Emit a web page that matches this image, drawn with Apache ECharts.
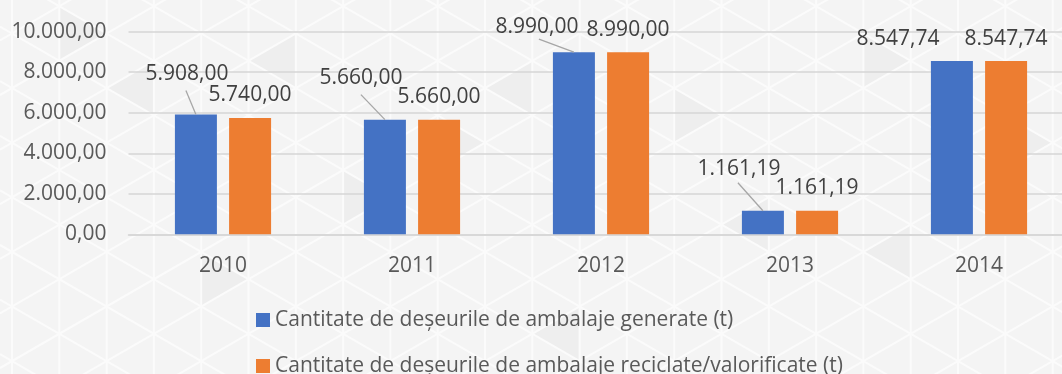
<!DOCTYPE html>
<html>
<head>
<meta charset="utf-8">
<script src="https://cdn.jsdelivr.net/npm/echarts@6/dist/echarts.min.js"></script>
<style>
  html, body { margin: 0; padding: 0; background: #f4f4f4; overflow: hidden; }
  /* the plot runs slightly past the right edge of the window, so the canvas is a bit wider */
  #chart { width: 1090px; height: 374px; }
</style>
</head>
<body>
<div id="chart"></div>
<script>
// Years on the category axis
const years = ['2010', '2011', '2012', '2013', '2014'];
// Packaging waste generated (tonnes)
const generated = [5908.00, 5660.00, 8990.00, 1161.19, 8547.74];
// Packaging waste recycled / recovered (tonnes)
const recycled = [5740.00, 5660.00, 8990.00, 1161.19, 8547.74];
// Value-axis ticks
const yTicks = [0, 2000, 4000, 6000, 8000, 10000];

const seriesNames = [
  'Cantitate de deșeurile de ambalaje generate (t)',
  'Cantitate de deșeurile de ambalaje reciclate/valorificate (t)'
];

// Label shifts (px) for the first series, so its labels clear the neighbouring ones
const genLabelShift = [[-9, -18], [-24, -19], [-37, -3], [-24, -19], [-54, 0]];
// Leader lines from the bar top towards a shifted label (px), null = no leader
const genLeader = [[-10, -24], [-24, -25], [-35, -13], [-25, -28], null];

const BAR_W = 42;
const BAR_GAP = 0.29;

// Romanian number format: 8.547,74
function fmt(v) {
  const parts = Number(v).toFixed(2).split('.');
  parts[0] = parts[0].replace(/\B(?=(\d{3})+(?!\d))/g, '.');
  return parts.join(',');
}

// Light triangular lattice drawn behind the plot
function latticeBackground(W, H) {
  const els = [{ type: 'rect', shape: { x: 0, y: 0, width: W, height: H }, style: { fill: '#f4f4f4' }, silent: true }];
  const w = 47.3, h = 54.6, s = (h / 2) / w;
  const x0 = 12, yRef = 170, xRef = 12 + 3 * w;
  // a few slightly darker cells
  const shade = [[1, 0, 1], [3, 1, -1], [4, 4, 1], [6, 0, -1], [9, 2, 1], [12, 5, -1], [14, 1, 1], [16, 3, -1], [18, 0, 1], [19, 4, -1], [7, 3, 1], [11, 1, -1], [21, 2, 1]];
  shade.forEach(function (c) {
    const k = c[0], m = c[1], dir = c[2];
    const xa = x0 + k * w;
    const ya = yRef - 3 * h + m * h + ((k % 2) === 1 ? 0 : h / 2);
    const xb = xa + dir * w;
    els.push({
      type: 'polygon', silent: true,
      shape: { points: [[xa, ya], [xa, ya + h], [xb, ya + h / 2]] },
      style: { fill: '#eeeeee' }
    });
  });
  for (let x = x0; x <= W; x += w) {
    els.push({ type: 'line', silent: true, shape: { x1: x, y1: 0, x2: x, y2: H }, style: { stroke: '#fbfbfb', lineWidth: 2 } });
  }
  for (let n = -30; n <= 30; n++) {
    const c = yRef + n * h;
    els.push({ type: 'line', silent: true, shape: { x1: 0, y1: c - s * xRef, x2: W, y2: c + s * (W - xRef) }, style: { stroke: '#fbfbfb', lineWidth: 2 } });
    els.push({ type: 'line', silent: true, shape: { x1: 0, y1: c + s * xRef, x2: W, y2: c - s * (W - xRef) }, style: { stroke: '#fbfbfb', lineWidth: 2 } });
  }
  return { type: 'group', z: -10, silent: true, children: els };
}

const chart = echarts.init(document.getElementById('chart'), null, { renderer: 'canvas' });

const textFont = '"Open Sans", "Noto Sans", sans-serif';

chart.setOption({
  animation: false,
  backgroundColor: '#f4f4f4',
  textStyle: { fontFamily: textFont },
  graphic: [latticeBackground(1090, 374)],
  grid: { left: 128.5, width: 945, top: 31.7, height: 202.6, containLabel: false },
  legend: {
    orient: 'vertical',
    left: 256,
    top: 309.5,
    height: 120,
    padding: 0,
    itemWidth: 14,
    itemHeight: 14,
    itemGap: 25,
    icon: 'rect',
    textStyle: { fontFamily: textFont, fontSize: 21, color: '#595959' },
    data: seriesNames
  },
  xAxis: {
    type: 'category',
    data: years,
    axisTick: { show: false },
    axisLine: { lineStyle: { color: '#d6d6d6', width: 1.5 } },
    axisLabel: { fontFamily: textFont, fontSize: 21, color: '#595959', margin: 21 }
  },
  yAxis: {
    type: 'value',
    min: yTicks[0],
    max: yTicks[yTicks.length - 1],
    interval: yTicks[1] - yTicks[0],
    axisLine: { show: false },
    axisTick: { show: false },
    splitLine: { lineStyle: { color: '#d6d6d6', width: 1.5 } },
    axisLabel: { fontFamily: textFont, fontSize: 21, color: '#595959', margin: 22, formatter: fmt }
  },
  series: [
    {
      name: seriesNames[0],
      type: 'bar',
      barWidth: BAR_W,
      barGap: (BAR_GAP * 100) + '%',
      itemStyle: { color: '#4472C4' },
      label: {
        show: true, position: 'top', distance: 12,
        fontFamily: textFont, fontSize: 21, color: '#404040', formatter: function (p) { return fmt(p.value); }
      },
      data: generated.map(function (v, i) {
        return { value: v, label: { offset: genLabelShift[i] } };
      })
    },
    {
      name: seriesNames[1],
      type: 'bar',
      barWidth: BAR_W,
      barGap: (BAR_GAP * 100) + '%',
      itemStyle: { color: '#ED7D31' },
      label: {
        show: true, position: 'top', distance: 12,
        fontFamily: textFont, fontSize: 21, color: '#404040', formatter: function (p) { return fmt(p.value); }
      },
      data: recycled
    },
    {
      // leader lines joining the shifted labels to the first series' bars
      name: 'leaders',
      type: 'custom',
      silent: true,
      z: 3,
      data: generated.map(function (v, i) { return [i, v]; }),
      renderItem: function (params, api) {
        const i = params.dataIndex;
        const d = genLeader[i];
        if (!d) return null;
        const p = api.coord([api.value(0), api.value(1)]);
        const bx = p[0] - (BAR_W * (1 + BAR_GAP)) / 2;
        return {
          type: 'line',
          shape: { x1: bx, y1: p[1], x2: bx + d[0], y2: p[1] + d[1] },
          style: { stroke: '#a6a6a6', lineWidth: 1.3 }
        };
      }
    }
  ]
});
</script>
</body>
</html>
